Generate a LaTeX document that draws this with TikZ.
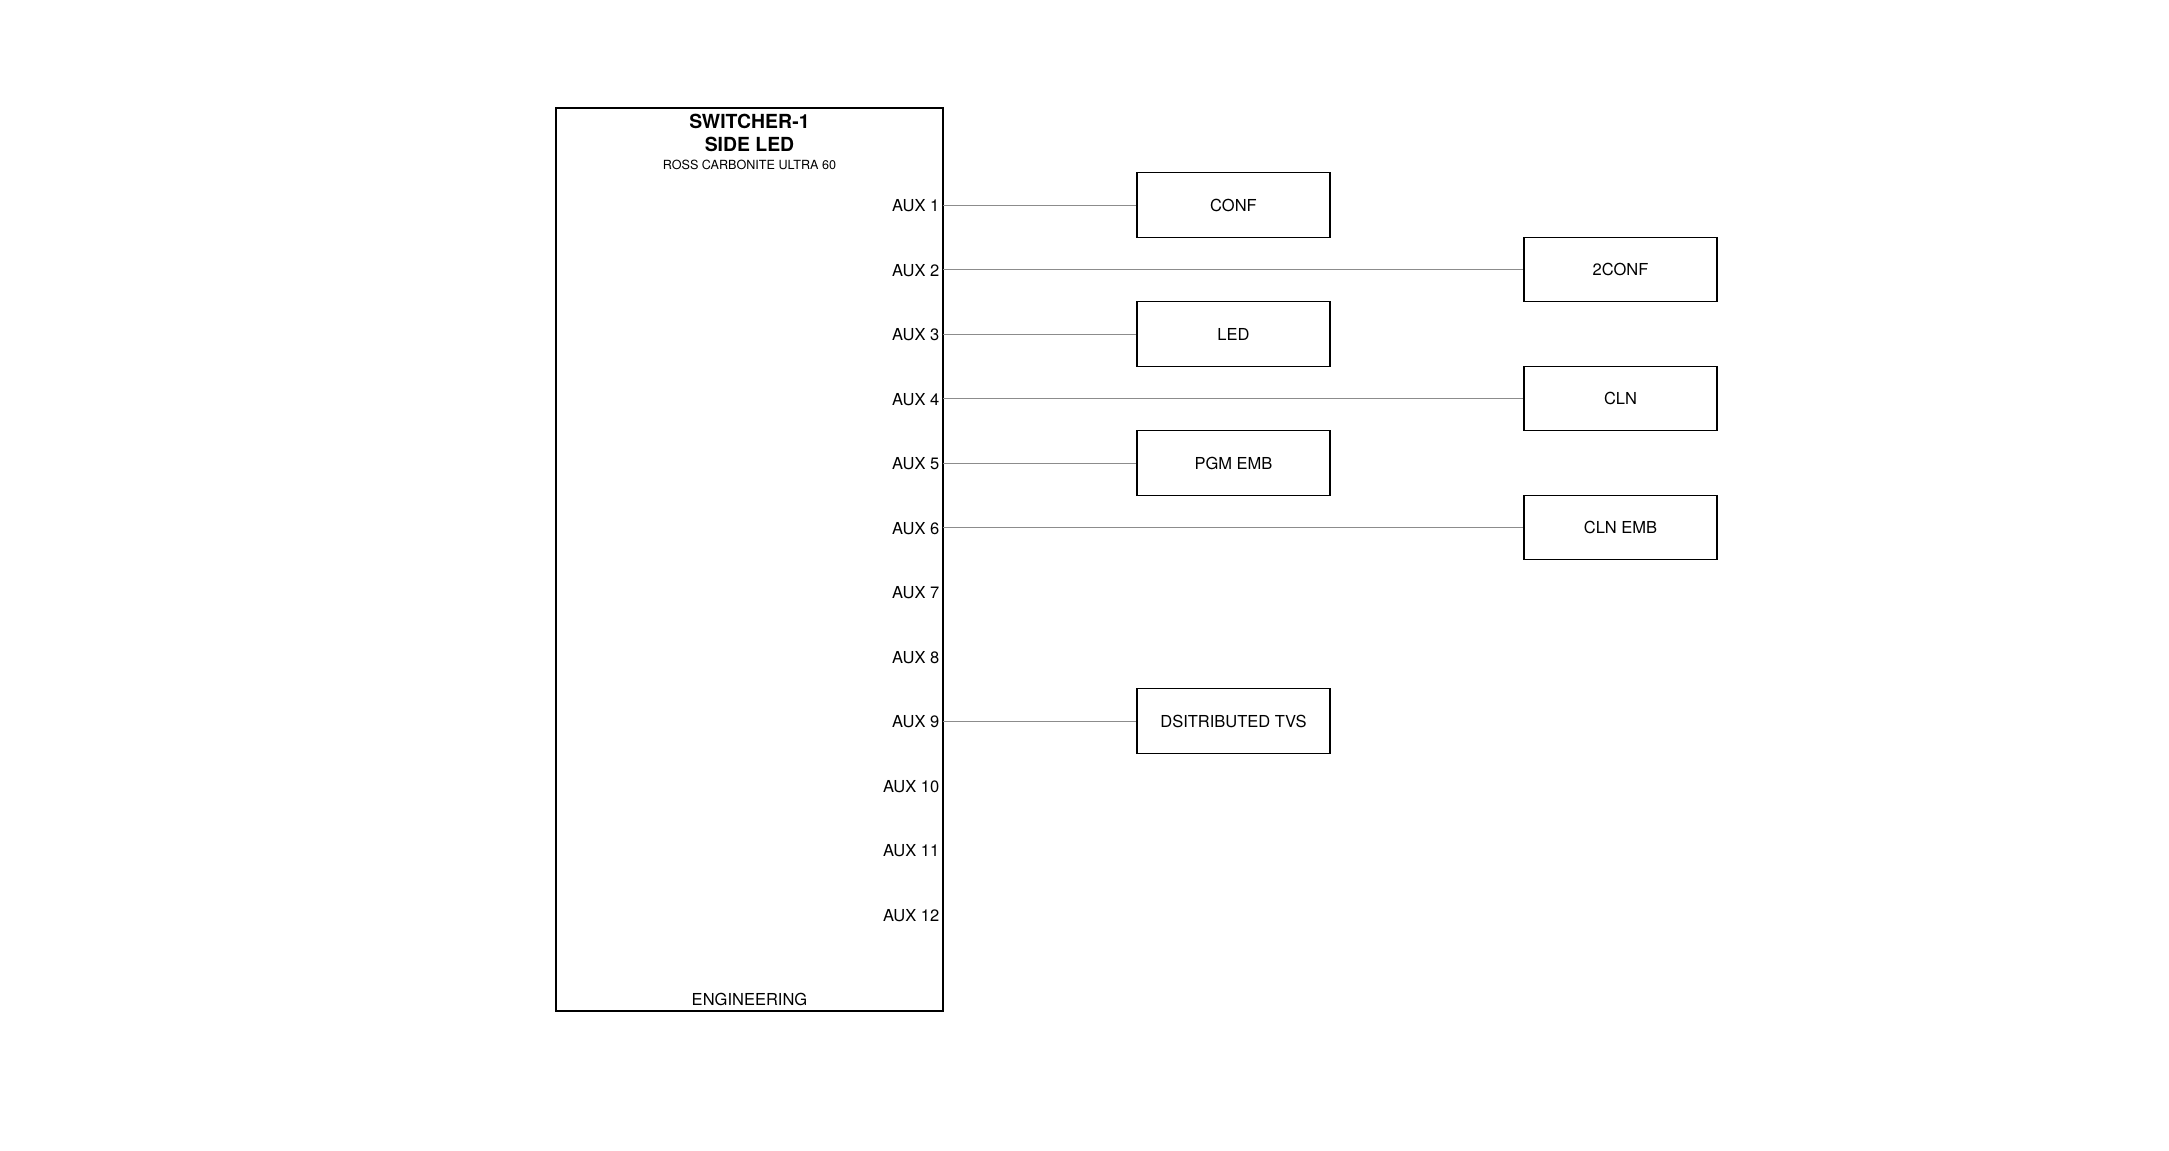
\documentclass[tikz,border=0pt]{standalone}
\usepackage{fontspec}
\setmainfont{TeX Gyre Heros}

\begin{document}
\begin{tikzpicture}[x=1pt,y=-1pt,
    frame/.style={draw,line width=1.2pt,inner sep=0pt},
    dest/.style={frame,minimum width=193pt,minimum height=64.5pt,font=\fontsize{16.5}{18}\selectfont},
    auxlbl/.style={anchor=east,inner xsep=3.5pt,inner ysep=0pt,font=\fontsize{16.5}{18}\selectfont},
    wire/.style={draw=black!45,line width=1pt}]
    \useasboundingbox (0,0) rectangle (2169,1151);
    % switcher
    \node[frame,minimum width=387pt,minimum height=903pt] (sw) at (749.5,559.5) {};
    \node[anchor=base,font=\bfseries\fontsize{19.4}{21}\selectfont] (swname) at (749.5,128.5) {SWITCHER-1};
    \node[anchor=base,font=\bfseries\fontsize{19.4}{21}\selectfont] (swside) at (749.5,151.7) {SIDE LED};
    \node[anchor=base,font=\fontsize{12.6}{14}\selectfont] (swmodel) at (749.5,169.7) {ROSS CARBONITE ULTRA 60};
    \node[anchor=base,font=\fontsize{16.5}{18}\selectfont] (swdept) at (749.5,1005) {ENGINEERING};
    \foreach \i in {1,...,12}
      \node[auxlbl] (aux\i) at (943,{206+64.5*(\i-1)}) {AUX \i};
    % destinations
    \node[dest] (conf) at (1233.5,205) {CONF};
    \node[dest] (tconf) at (1620.5,269.5) {2CONF};
    \node[dest] (led) at (1233.5,334) {LED};
    \node[dest] (cln) at (1620.5,398.5) {CLN};
    \node[dest] (pgmemb) at (1233.5,463) {PGM EMB};
    \node[dest] (clnemb) at (1620.5,527.5) {CLN EMB};
    \node[dest] (tvs) at (1233.5,721) {DSITRIBUTED TVS};
    % wires
    \draw[wire] (aux1.east |- conf) -- (conf.west);
    \draw[wire] (aux2.east |- tconf) -- (tconf.west);
    \draw[wire] (aux3.east |- led) -- (led.west);
    \draw[wire] (aux4.east |- cln) -- (cln.west);
    \draw[wire] (aux5.east |- pgmemb) -- (pgmemb.west);
    \draw[wire] (aux6.east |- clnemb) -- (clnemb.west);
    \draw[wire] (aux9.east |- tvs) -- (tvs.west);
\end{tikzpicture}
\end{document}
